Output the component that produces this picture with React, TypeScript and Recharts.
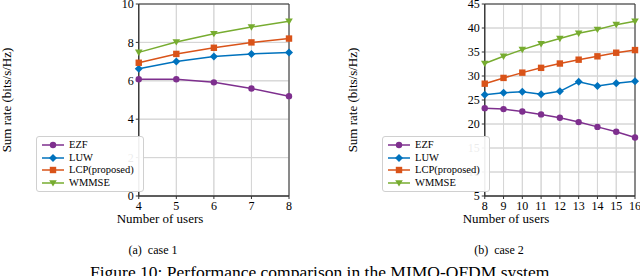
import React from 'react';
import { LineChart, Line, XAxis, YAxis, Legend, ReferenceArea } from 'recharts';

// case 1
const users1 = [4, 5, 6, 7, 8];
const ezf1 = [6.08, 6.08, 5.92, 5.6, 5.2];
const luw1 = [6.63, 7.0, 7.26, 7.4, 7.47];
const lcp1 = [6.94, 7.4, 7.72, 8.0, 8.2];
const wmmse1 = [7.48, 8.02, 8.45, 8.8, 9.1];
const yTicks1 = [0, 2, 4, 6, 8, 10];

// case 2
const users2 = [8, 9, 10, 11, 12, 13, 14, 15, 16];
const ezf2 = [23.3, 23.1, 22.6, 22.0, 21.3, 20.4, 19.4, 18.4, 17.2];
const luw2 = [26.1, 26.5, 26.7, 26.2, 26.8, 28.8, 27.9, 28.5, 28.9];
const lcp2 = [28.4, 29.6, 30.7, 31.7, 32.6, 33.4, 34.1, 34.85, 35.4];
const wmmse2 = [32.6, 34.1, 35.5, 36.7, 37.8, 38.9, 39.7, 40.7, 41.4];
const yTicks2 = [5, 10, 15, 20, 25, 30, 35, 40, 45];

const series = [
    { key: 'ezf', name: 'EZF', color: '#7E2F8E', shape: 'circle' },
    { key: 'luw', name: 'LUW', color: '#0072BD', shape: 'diamond' },
    { key: 'lcp', name: 'LCP(proposed)', color: '#D95319', shape: 'square' },
    { key: 'wmmse', name: 'WMMSE', color: '#77AC30', shape: 'triangle' },
];

const build = (x: number[], a: number[], b: number[], c: number[], d: number[]) =>
    x.map((u, i) => ({ users: u, ezf: a[i], luw: b[i], lcp: c[i], wmmse: d[i] }));

const data1 = build(users1, ezf1, luw1, lcp1, wmmse1);
const data2 = build(users2, ezf2, luw2, lcp2, wmmse2);

const FONT = '"Liberation Serif", "DejaVu Serif", serif';
const GRID = '#d6d6d6';

const Marker = ({ cx, cy, shape, color }: { cx: number; cy: number; shape: string; color: string }) => {
    if (cx == null || cy == null) return null;
    if (shape === 'circle') return <circle cx={cx} cy={cy} r={3.2} fill={color} />;
    if (shape === 'square') return <rect x={cx - 3.2} y={cy - 3.2} width={6.4} height={6.4} fill={color} />;
    if (shape === 'diamond')
        return <polygon points={`${cx},${cy - 4} ${cx + 4},${cy} ${cx},${cy + 4} ${cx - 4},${cy}`} fill={color} />;
    return <polygon points={`${cx - 3.8},${cy - 2.8} ${cx + 3.8},${cy - 2.8} ${cx},${cy + 3.6}`} fill={color} />;
};

const LegendBox = () => (
    <div
        style={{
            border: '1px solid #d0d0d0',
            borderRadius: 3,
            background: 'rgba(255,255,255,0.92)',
            padding: '2px 9px 2px 4px',
            fontFamily: FONT,
            fontSize: 10.5,
            lineHeight: '12.5px',
        }}
    >
        {series.map((s) => (
            <div key={s.key} style={{ display: 'flex', alignItems: 'center' }}>
                <svg width={24} height={12}>
                    <line x1={1} y1={6} x2={23} y2={6} stroke={s.color} strokeWidth={1.5} />
                    <Marker cx={12} cy={6} shape={s.shape} color={s.color} />
                </svg>
                <span style={{ marginLeft: 4 }}>{s.name}</span>
            </div>
        ))}
    </div>
);

type PanelProps = {
    data: any[];
    xTicks: number[];
    yTicks: number[];
    yAxisWidth: number;
    rightMargin: number;
};

const Panel = ({ data, xTicks, yTicks, yAxisWidth, rightMargin }: PanelProps) => {
    const tickStyle = { fill: '#000', fontSize: 12, fontFamily: FONT };
    const x0 = xTicks[0];
    const x1 = xTicks[xTicks.length - 1];
    const y0 = yTicks[0];
    const y1 = yTicks[yTicks.length - 1];
    return (
        <LineChart width={yAxisWidth + 258 + rightMargin} height={230} data={data}
            margin={{ top: 4, right: rightMargin, left: 0, bottom: 14 }}>
            <XAxis dataKey="users" type="number" domain={[x0, x1]}
                ticks={xTicks} interval={0} tick={tickStyle} tickSize={3}
                stroke="#333" height={20} allowDecimals={false} />
            <YAxis type="number" domain={[y0, y1]} ticks={yTicks}
                interval={0} tick={tickStyle} tickSize={3} stroke="#333" width={yAxisWidth} />
            {/* grid: one outlined cell per column and per row */}
            {xTicks.slice(0, -1).map((v, i) => (
                <ReferenceArea key={`gx${v}`} x1={v} x2={xTicks[i + 1]} y1={y0} y2={y1}
                    fill="none" fillOpacity={0} stroke={GRID} strokeWidth={1} />
            ))}
            {yTicks.slice(0, -1).map((v, i) => (
                <ReferenceArea key={`gy${v}`} x1={x0} x2={x1} y1={v} y2={yTicks[i + 1]}
                    fill="none" fillOpacity={0} stroke={GRID} strokeWidth={1} />
            ))}
            <ReferenceArea x1={x0} x2={x1} y1={y0} y2={y1} fill="none" fillOpacity={0}
                stroke="#333" strokeWidth={1} ifOverflow="visible" />
            <Legend layout="vertical" verticalAlign="top" align="left" content={() => <LegendBox />}
                wrapperStyle={{ left: yAxisWidth + 5, top: 136, width: 'auto' }} />
            {series.map((s) => (
                <Line key={s.key} dataKey={s.key} name={s.name} stroke={s.color} strokeWidth={1.5}
                    isAnimationActive={false}
                    dot={(p: any) => <Marker key={`${s.key}-${p.index}`} cx={p.cx} cy={p.cy} shape={s.shape} color={s.color} />}
                    activeDot={false} />
            ))}
        </LineChart>
    );
};

const text = (style: React.CSSProperties): React.CSSProperties => ({
    position: 'absolute',
    fontFamily: FONT,
    color: '#000',
    whiteSpace: 'nowrap',
    ...style,
});

export default function App() {
    return (
        <div style={{ position: 'absolute', left: 0, top: 0, width: 640, height: 276, overflow: 'hidden', background: '#fff' }}>
            <div style={{ position: 'absolute', left: 0, top: 0 }}>
                <Panel data={data1} xTicks={users1} yTicks={yTicks1} yAxisWidth={31} rightMargin={11} />
            </div>
            <div style={{ position: 'absolute', left: 320, top: 0 }}>
                <Panel data={data2} xTicks={users2} yTicks={yTicks2} yAxisWidth={57} rightMargin={5} />
            </div>
            <div style={text({ left: 7, top: 100, fontSize: 13, transform: 'translate(-50%, -50%) rotate(-90deg)' })}>
                Sum rate (bits/s/Hz)
            </div>
            <div style={text({ left: 353, top: 100, fontSize: 13, transform: 'translate(-50%, -50%) rotate(-90deg)' })}>
                Sum rate (bits/s/Hz)
            </div>
            <div style={text({ left: 160, top: 219, fontSize: 13, transform: 'translate(-50%, -50%)' })}>Number of users</div>
            <div style={text({ left: 506, top: 219, fontSize: 13, transform: 'translate(-50%, -50%)' })}>Number of users</div>
            <div style={text({ left: 153, top: 250, fontSize: 12, transform: 'translate(-50%, -50%)' })}>(a)&nbsp; case 1</div>
            <div style={text({ left: 499, top: 250, fontSize: 12, transform: 'translate(-50%, -50%)' })}>(b)&nbsp; case 2</div>
            <div style={text({ left: 90, top: 262, fontSize: 17.5 })}>Figure 10: Performance comparison in the MIMO-OFDM system.</div>
        </div>
    );
}
